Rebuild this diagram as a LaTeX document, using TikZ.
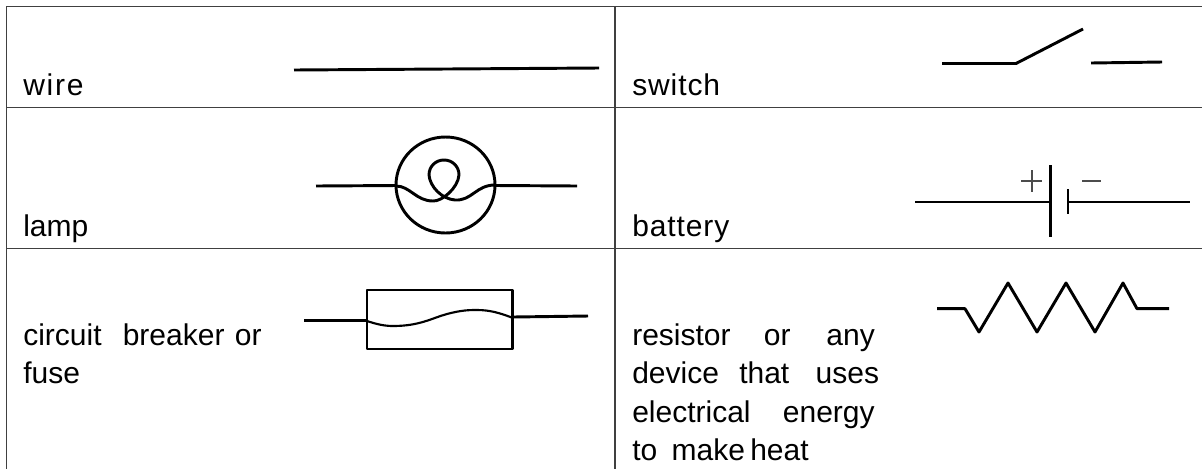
\documentclass[tikz,border=0pt]{standalone}
\usepackage{fontspec}
\setmainfont{Liberation Sans}
\newfontfamily\widefont[LetterSpace=6]{Liberation Sans}
\newfontfamily\semiwidefont[LetterSpace=3]{Liberation Sans}
\definecolor{rule}{gray}{0.25}
\tikzset{
  cellrule/.style={draw=rule,line width=0.8pt},
  sym/.style={draw=black,line width=2.2pt,line join=round},
  thinsym/.style={draw=black,line width=1.6pt,line join=round},
  signs/.style={draw=black!70,line width=1.4pt},
  lab/.style={anchor=base west,inner sep=0pt,font=\fontsize{22.5}{27}\selectfont}
}
\begin{document}
\begin{tikzpicture}[x=0.75pt,y=-0.75pt]
\useasboundingbox (0,0) rectangle (1202,469);
\draw[cellrule] (6,6.5) -- (1202,6.5);
\draw[cellrule] (6,107.5) -- (1202,107.5);
\draw[cellrule] (6,248.5) -- (1202,248.5);
\draw[cellrule] (6.5,6) -- (6.5,469);
\draw[cellrule] (615,6) -- (615,469);
\node[lab] (wire) at (23,95) {\widefont wire};
\node[lab] (switch) at (632,95) {\semiwidefont switch};
\node[lab] (lamp) at (23,236) {lamp};
\node[lab] (battery) at (632,236) {\semiwidefont battery};
\node[lab] (cb1) at (23,345) {circuit\hspace{0.43em} breaker\hspace{0.07em} or};
\node[lab] (cb2) at (23,383) {fuse};
\node[lab] (r1) at (632,345) {resistor\hspace{0.83em} or\hspace{0.92em} any};
\node[lab] (r2) at (632,383) {device\hspace{0.4em} that\hspace{0.6em} uses};
\node[lab] (r3) at (632,422) {electrical\hspace{0.8em} energy};
\node[lab] (r4) at (632,460) {to\hspace{0.2em} make\hspace{-0.1em} heat};
\draw[sym] (294,70) -- (599,68);
\draw[sym] (942,63.5) -- (1016,63.5) -- (1083,29);
\draw[sym] (1091,63) -- (1162,62);
\draw[sym] (316,186) -- (397,185.5);
\draw[sym] (496,185.5) -- (577,186);
\draw[sym] (445.5,185) ellipse [x radius=49.5, y radius=48];
\draw[sym] (396,186) .. controls (410,186) and (416,201) .. (433,201) .. controls (442,201.5) and (458,188) .. (459,175) .. controls (459,166) and (452,160) .. (444,160) .. controls (436,160) and (429,166) .. (429,175) .. controls (430,187) and (442,199) .. (455,200) .. controls (472,201) and (476,185) .. (495,185);
\draw[sym] (915,202) -- (1050,202);
\draw[sym] (1068,202) -- (1190,202);
\draw[sym] (1050.7,165) -- (1050.7,237);
\draw[sym] (1068,189) -- (1068,214);
\draw[signs] (1021,181) -- (1042,181) (1031.7,170) -- (1031.7,192);
\draw[signs] (1082,181) -- (1101,181);
\draw[sym] (304,320.7) -- (367,320.7);
\draw[sym] (513,317) -- (588,316);
\draw[thinsym] (367,290) rectangle (512.5,349);
\draw[thinsym] (367,321) .. controls (376,324) and (384,326) .. (393,326) .. controls (420,326) and (432,318) .. (447,314) .. controls (462,310) and (470,310) .. (477,310) .. controls (490,310) and (500,313) .. (513,318);
\draw[sym] (937,308.7) -- (965,308.7) -- (979,332) -- (1008,283) -- (1037,332) -- (1066,283) -- (1095,332) -- (1123,283) -- (1137,308.7) -- (1169,308.7);
\end{tikzpicture}
\end{document}
